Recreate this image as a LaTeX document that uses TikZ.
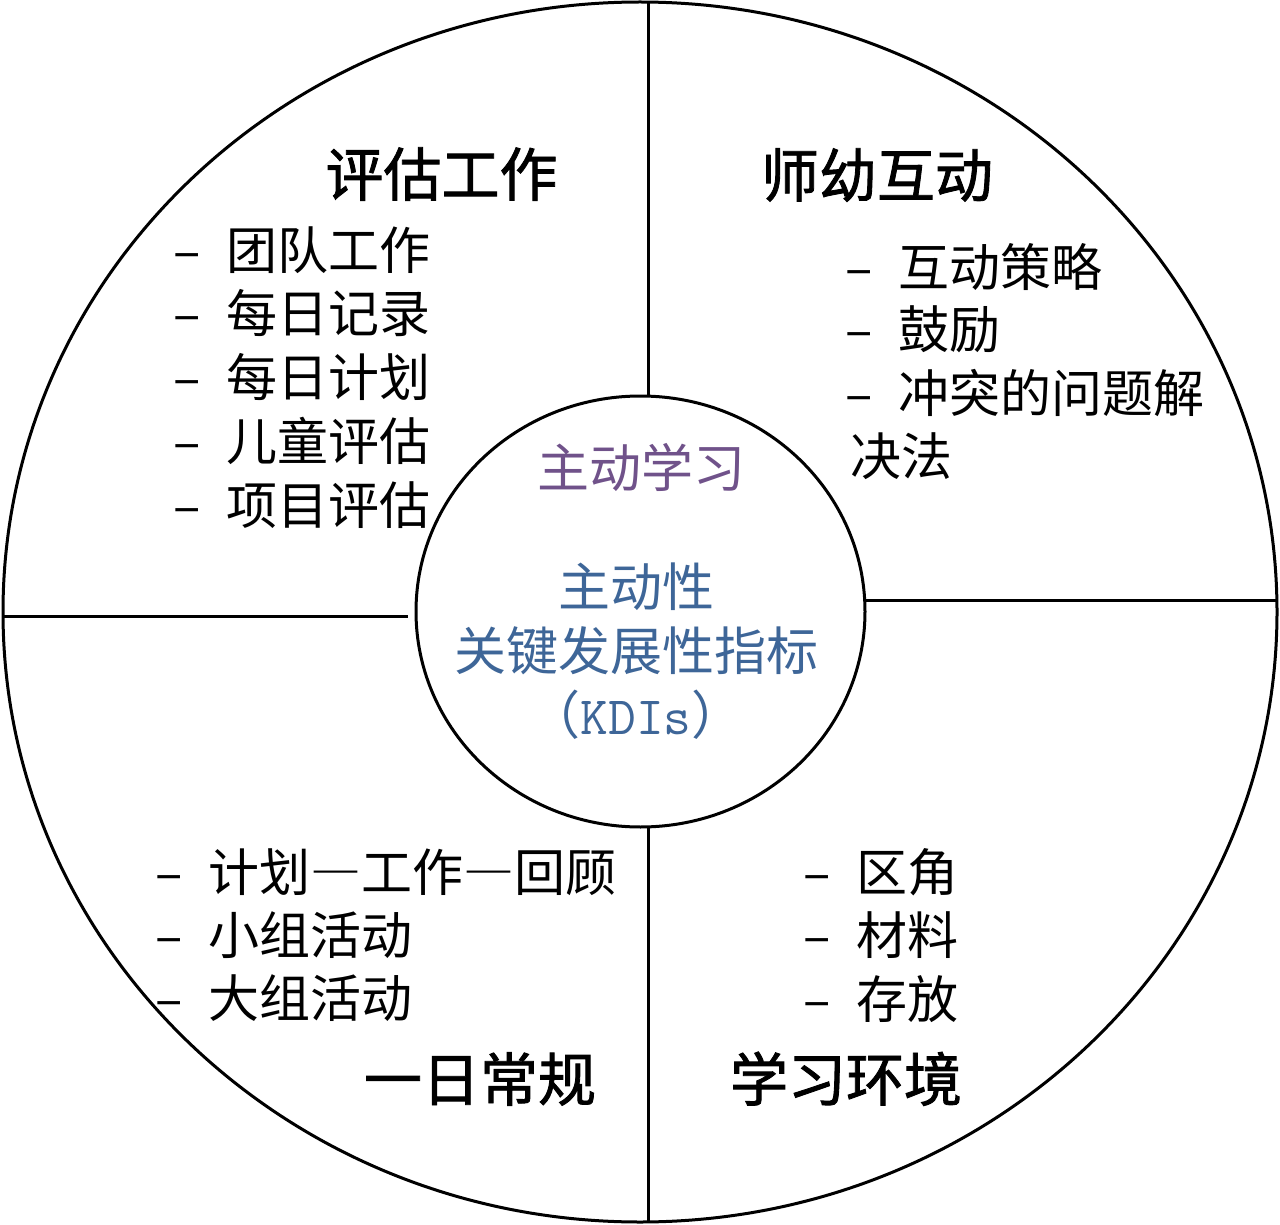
\documentclass[tikz,border=0pt]{standalone}
\usepackage{fontspec}
\setmainfont{Noto Sans CJK SC}
\newfontfamily\cjkhead{Noto Sans CJK SC}[FakeBold=1.5]
\newfontfamily\cjkfull{Noto Sans CJK SC}[CharacterWidth=Full]
\usetikzlibrary{shapes.geometric}
\definecolor{kdipurple}{RGB}{112,82,138}
\definecolor{kdiblue}{RGB}{62,102,152}
\tikzset{
  x=0.5pt, y=-0.5pt,
  ring/.style={draw=black, line width=1.5pt, ellipse, inner sep=0pt},
  divider/.style={draw=black, line width=1.5pt},
  heading/.style={anchor=center, inner sep=0pt, font=\fontsize{29}{29}\selectfont,
    text height=25.5pt, text depth=3.5pt},
  item/.style={anchor=west, inner sep=0pt, font=\fontsize{25.5}{25.5}\selectfont,
    text height=22.4pt, text depth=3.1pt},
  coretext/.style={anchor=center, inner sep=0pt, font=\fontsize{26}{26}\selectfont,
    text height=22.9pt, text depth=3.1pt},
}
\newcommand{\dashitem}[1]{\llap{–\hspace{0.5em}}#1}
\newcommand{\fulldash}{{\cjkfull —}}
\begin{document}
\begin{tikzpicture}
\useasboundingbox (0,0) rectangle (1280,1225);
% rings
\node[ring, minimum width=1274pt/2, minimum height=1220pt/2] (outer) at (640,612) {};
\node[ring, minimum width=449pt/2, minimum height=431pt/2] (inner) at (640.5,611.5) {};
% divider end points
\coordinate (topA) at (648.5,1.5);
\coordinate (topB) at (648.5,396.5);
\coordinate (botA) at (648.5,826.5);
\coordinate (botB) at (648.5,1222.5);
\coordinate (leftA) at (3,616);
\coordinate (leftB) at (408,616);
\coordinate (rightA) at (865,600.5);
\coordinate (rightB) at (1277,600.5);
\draw[divider] (topA) -- (topB);
\draw[divider] (botA) -- (botB);
\draw[divider] (leftA) -- (leftB);
\draw[divider] (rightA) -- (rightB);
% headings
\node[heading] (h1) at (441.5,174) {\cjkhead 评估工作};
\node[heading] (h2) at (877,175) {\cjkhead 师幼互动};
\node[heading] (h3) at (480,1079) {\cjkhead 一日常规};
\node[heading] (h4) at (846,1079) {\cjkhead 学习环境};
% top-left list
\node[item] (a1) at (226,250) {\dashitem{团队工作}};
\node[item] (a2) at (226,313) {\dashitem{每日记录}};
\node[item] (a3) at (226,377) {\dashitem{每日计划}};
\node[item] (a4) at (226,441) {\dashitem{儿童评估}};
\node[item] (a5) at (226,505) {\dashitem{项目评估}};
% top-right list
\node[item] (b1) at (898,267) {\dashitem{互动策略}};
\node[item] (b2) at (898,329) {\dashitem{鼓励}};
\node[item] (b3) at (898,393) {\dashitem{冲突的问题解}};
\node[item] (b4) at (850,456) {决法};
% bottom-left list
\node[item] (c1) at (208,872) {\dashitem{计划\fulldash 工作\fulldash 回顾}};
\node[item] (c2) at (208,935) {\dashitem{小组活动}};
\node[item] (c3) at (208,998) {\dashitem{大组活动}};
% bottom-right list
\node[item] (d1) at (856,872) {\dashitem{区角}};
\node[item] (d2) at (856,935) {\dashitem{材料}};
\node[item] (d3) at (856,999) {\dashitem{存放}};
% core
\node[coretext, text=kdipurple] (k1) at (641,468) {主动学习};
\node[coretext, text=kdiblue] (k2) at (636,587) {主动性};
\node[coretext, text=kdiblue] (k3) at (636,651) {关键发展性指标};
\node[coretext, text=kdiblue] (k4) at (636,715) {（{\ttfamily\fontsize{27}{27}\selectfont KDIs}）};
\end{tikzpicture}
\end{document}
